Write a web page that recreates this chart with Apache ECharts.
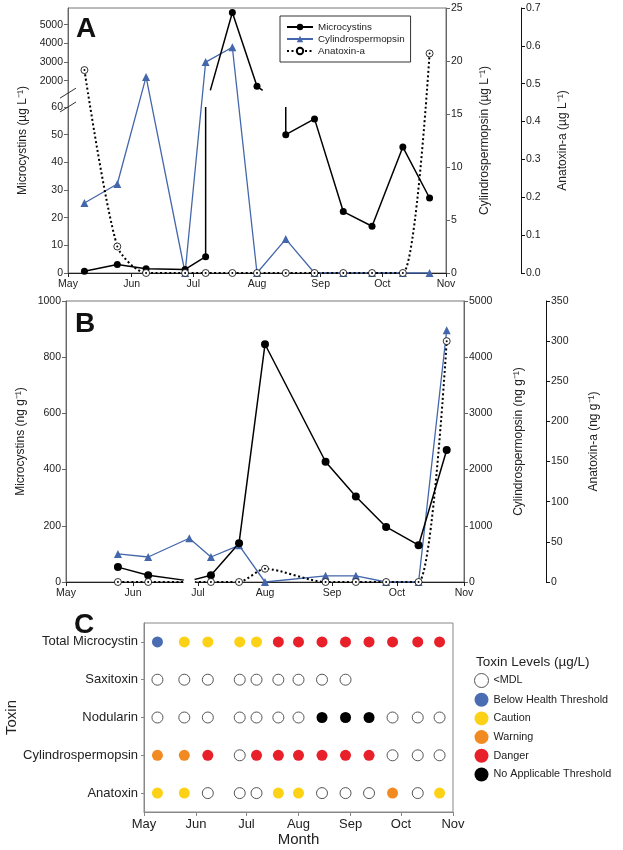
<!DOCTYPE html>
<html><head><meta charset="utf-8">
<script src="https://cdn.jsdelivr.net/npm/echarts@6/dist/echarts.min.js"></script>
<style>html,body{margin:0;padding:0;background:#fff}#c{width:623px;height:850px}</style>
</head><body><div id="c"></div>
<script>
// ---------- shared x (months) ----------
const monthStarts = [0, 31, 61, 92, 123, 153, 184];
const monthLabels = ['May', 'Jun', 'Jul', 'Aug', 'Sep', 'Oct', 'Nov'];
const sampleDates = ['05-09','05-25','06-08','06-27','07-07','07-20','08-01','08-15','08-29','09-12','09-26','10-11','10-24'];

// ---------- Panel A (µg/L) ----------
const aMicro    = [0.6, 3.1, 1.5, 1.3, 5.9, 5650, 1700, 50, 55.7, 22.2, 16.9, 45.5, 27.1];
const aCylindro = [6.6, 8.4, 18.5, 0, 19.9, 21.3, 0, 3.2, 0, 0, 0, 0, 0];
const aAnatoxin = [0.536, 0.07, 0, 0, 0, 0, 0, 0, 0, 0, 0, 0, 0.58];
const aLeftTicks = [0, 10, 20, 30, 40, 50, 60, 2000, 3000, 4000, 5000];

// ---------- Panel B (ng/g) ----------
const bDates    = ['05-25','06-08','06-27','07-07','07-20','08-01','08-29','09-12','09-26','10-11','10-24'];
const bMicro    = [53, 24, 4, 24, 138, 846, 428, 304, 196, 131, 470];
const bCylindro = [500, 445, 778, 445, 653, 0, 110, 110, 0, 0, 4480];
const bAnatoxin = [0, 0, 0, 0, 0, 16.5, 0, 0, 0, 0, 300];

// ---------- Panel C ----------
const cRows = ['Total Microcystin', 'Saxitoxin', 'Nodularin', 'Cylindrospermopsin', 'Anatoxin'];
const cLevels = ['<MDL', 'Below Health Threshold', 'Caution', 'Warning', 'Danger', 'No Applicable Threshold'];
const cLevelColors = ['#ffffff', '#4a6cb3', '#fcd116', '#f28a22', '#e8202a', '#000000'];
const cTotalMicro = [1, 2, 2, 2, 2, 4, 4, 4, 4, 4, 4, 4, 4];
const cSaxitoxin  = [0, 0, 0, 0, 0, 0, 0, 0, 0, null, null, null, null];
const cNodularin  = [0, 0, 0, 0, 0, 0, 0, 5, 5, 5, 0, 0, 0];
const cCylindro   = [3, 3, 4, 0, 4, 4, 4, 4, 4, 4, 0, 0, 0];
const cAnatoxin   = [2, 2, 0, 0, 0, 2, 2, 0, 0, 0, 3, 0, 2];

// ---------- helpers ----------
const dayOf = s => { const [m, d] = s.split('-').map(Number); return Math.round((Date.UTC(2019, m - 1, d) - Date.UTC(2019, 4, 1)) / 86400000); };
const xA = sampleDates.map(dayOf);
const xB = bDates.map(dayOf);

// broken-axis scale for panel A left axis
const BREAK_LO = 60, BREAK_HI = 66, UP0 = 69.5, UPK = 6.75;
const toV = v => v <= BREAK_LO ? v : UP0 + (v - 2000) / 1000 * UPK;
const aLeftTickV = aLeftTicks.map(toV);

const micData = [];
for (let i = 0; i < xA.length; i++) {
  const v = toV(aMicro[i]);
  if (i > 0) {
    const pv = toV(aMicro[i - 1]), px = xA[i - 1];
    const lowPrev = aMicro[i - 1] <= BREAK_LO, lowCur = aMicro[i] <= BREAK_LO;
    if (lowPrev && !lowCur) {
      micData.push({ value: [px, BREAK_LO], symbol: 'none' });
      micData.push({ value: [px, '-'], symbol: 'none' });
      const cx = xA[i] + (px - xA[i]) * (v - BREAK_HI) / (v - BREAK_LO);
      micData.push({ value: [cx, BREAK_HI], symbol: 'none' });
    } else if (!lowPrev && lowCur) {
      const cx = px + (xA[i] - px) * (pv - BREAK_HI) / (pv - BREAK_LO);
      micData.push({ value: [cx, BREAK_HI], symbol: 'none' });
      micData.push({ value: [cx, '-'], symbol: 'none' });
      micData.push({ value: [xA[i], BREAK_LO], symbol: 'none' });
    }
  }
  micData.push([xA[i], v]);
}

const FONT = 'Liberation Sans, Arial, sans-serif';
const TXT = '#222';
const BLUE = '#4466aa';

function monthAxis(gi, fs, lineColor) {
  return {
    type: 'value', gridIndex: gi, min: 0, max: 184,
    axisLine: { show: true, onZero: false, lineStyle: { color: lineColor, width: 1 } },
    axisTick: { show: true, customValues: monthStarts, length: 4, lineStyle: { color: lineColor } },
    axisLabel: { customValues: monthStarts, fontSize: fs, color: TXT, fontFamily: FONT, margin: 6,
      formatter: v => monthLabels[monthStarts.indexOf(Math.round(v))] || '' },
    splitLine: { show: false }
  };
}
function valAxis(gi, pos, min, max, interval, name, nameGap, opts) {
  return Object.assign({
    type: 'value', gridIndex: gi, position: pos, min, max, interval,
    axisLine: { show: true, onZero: false, lineStyle: { color: '#666' } },
    axisTick: { show: true, length: 4, lineStyle: { color: '#666' } },
    axisLabel: { fontSize: 10.5, color: TXT, fontFamily: FONT, margin: 5, formatter: v => String(v) },
    splitLine: { show: false },
    name, nameLocation: 'middle', nameGap, nameRotate: 90,
    nameTextStyle: { fontSize: 12, color: TXT, fontFamily: FONT }
  }, opts || {});
}

const chart = echarts.init(document.getElementById('c'), null, { renderer: 'canvas' });

const centerDots = (xs, ys, xi, yi) => ({
  type: 'scatter', xAxisIndex: xi, yAxisIndex: yi, symbol: 'circle', symbolSize: 2, silent: true,
  itemStyle: { color: '#000', opacity: 1 }, z: 5, data: xs.map((x, i) => [x, ys[i]])
});

const series = [
  // Panel A
  { name: 'Cylindrospermopsin', type: 'line', xAxisIndex: 0, yAxisIndex: 1, symbol: 'triangle', symbolSize: 8,
    lineStyle: { color: BLUE, width: 1.3 }, itemStyle: { color: BLUE }, data: xA.map((x, i) => [x, aCylindro[i]]) },
  { name: 'Microcystins', type: 'line', xAxisIndex: 0, yAxisIndex: 0, symbol: 'circle', symbolSize: 7,
    lineStyle: { color: '#000', width: 1.5 }, itemStyle: { color: '#000' }, data: micData },
  { name: 'Anatoxin-a', type: 'line', xAxisIndex: 0, yAxisIndex: 2, symbol: 'circle', symbolSize: 7, smooth: 0.25,
    lineStyle: { color: '#000', width: 2, type: [2, 2.5] }, itemStyle: { color: '#fff', borderColor: '#000', borderWidth: 0.8 },
    data: xA.map((x, i) => [x, aAnatoxin[i]]), z: 4 },
  centerDots(xA, aAnatoxin, 0, 2),
  // Panel B
  { name: 'Cylindrospermopsin', type: 'line', xAxisIndex: 1, yAxisIndex: 4, symbol: 'triangle', symbolSize: 8,
    lineStyle: { color: BLUE, width: 1.3 }, itemStyle: { color: BLUE }, data: xB.map((x, i) => [x, bCylindro[i]]) },
  { name: 'Microcystins', type: 'line', xAxisIndex: 1, yAxisIndex: 3, symbol: 'circle', symbolSize: 8,
    lineStyle: { color: '#000', width: 1.5 }, itemStyle: { color: '#000' },
    data: xB.map((x, i) => (bDates[i] === '06-27' ? { value: [x, bMicro[i]], symbol: 'none' } : [x, bMicro[i]])) },
  { name: 'Anatoxin-a', type: 'line', xAxisIndex: 1, yAxisIndex: 5, symbol: 'circle', symbolSize: 7, smooth: 0.25,
    lineStyle: { color: '#000', width: 2, type: [2, 2.5] }, itemStyle: { color: '#fff', borderColor: '#000', borderWidth: 0.8 },
    data: xB.map((x, i) => (bDates[i] === '06-27' ? { value: [x, bAnatoxin[i]], symbolSize: 11, itemStyle: { borderColor: '#fff' } } : [x, bAnatoxin[i]])), z: 4 },
  centerDots(xB.filter((x, i) => bDates[i] !== '06-27'), bAnatoxin.filter((v, i) => bDates[i] !== '06-27'), 1, 5)
];

// Panel C series, one per level
const cAll = [cTotalMicro, cSaxitoxin, cNodularin, cCylindro, cAnatoxin];
cLevels.forEach((lv, L) => {
  const data = [];
  cAll.forEach((row, r) => row.forEach((val, j) => { if (val === L) data.push([xA[j], cRows[r]]); }));
  series.push({
    name: lv, type: 'scatter', xAxisIndex: 2, yAxisIndex: 6, symbol: 'circle', symbolSize: 11,
    itemStyle: L === 0 ? { color: '#fff', borderColor: '#555', borderWidth: 1, opacity: 1 }
                       : { color: cLevelColors[L], borderColor: cLevelColors[L], borderWidth: 0, opacity: 1 },
    data
  });
});

const option = {
  animation: false,
  backgroundColor: '#fff',
  textStyle: { fontFamily: FONT },
  title: [
    { text: 'A', left: 71, top: 10, textStyle: { fontSize: 28, fontWeight: 'bold', color: '#111', fontFamily: FONT } },
    { text: 'B', left: 70, top: 305, textStyle: { fontSize: 28, fontWeight: 'bold', color: '#111', fontFamily: FONT } },
    { text: 'C', left: 69, top: 606, textStyle: { fontSize: 28, fontWeight: 'bold', color: '#111', fontFamily: FONT } },
    { text: 'Toxin Levels (µg/L)', left: 471, top: 650, textStyle: { fontSize: 13.5, fontWeight: 'normal', color: TXT, fontFamily: FONT } }
  ],
  legend: [
    { data: ['Microcystins', 'Cylindrospermopsin', 'Anatoxin-a'], left: 280, top: 16, orient: 'vertical',
      selectedMode: false, itemWidth: 26, itemHeight: 8, itemGap: 2, padding: [6, 6, 6, 6],
      borderColor: '#333', borderWidth: 1, backgroundColor: '#fff',
      textStyle: { fontSize: 9.8, color: TXT, fontFamily: FONT } },
    { data: cLevels.map((lv, L) => ({ name: lv, itemStyle: L === 0 ? { color: '#fff', borderColor: '#555', borderWidth: 1 } : { borderWidth: 0 } })),
      left: 474, top: 673, orient: 'vertical', selectedMode: false, icon: 'circle',
      itemWidth: 14, itemHeight: 14, itemGap: 4.7, padding: 0,
      textStyle: { fontSize: 10.8, color: TXT, fontFamily: FONT } }
  ],
  grid: [
    { left: 68, top: 8, width: 378, height: 265, show: true, borderColor: '#777', borderWidth: 1, backgroundColor: 'transparent' },
    { left: 66, top: 301, width: 398, height: 281, show: true, borderColor: '#777', borderWidth: 1, backgroundColor: 'transparent' },
    { left: 144, top: 623, width: 309, height: 189, show: true, borderColor: '#888', borderWidth: 1, backgroundColor: 'transparent' }
  ],
  xAxis: [
    monthAxis(0, 10.5, '#222'),
    monthAxis(1, 10.5, '#222'),
    Object.assign(monthAxis(2, 13, '#888'), { name: 'Month', nameLocation: 'middle', nameGap: 19,
      nameTextStyle: { fontSize: 15, color: TXT, fontFamily: FONT } })
  ],
  yAxis: [
    valAxis(0, 'left', 0, 95.77, null, 'Microcystins (µg L⁻¹)', 38, {
      axisTick: { show: true, length: 4, customValues: aLeftTickV, lineStyle: { color: '#666' } },
      axisLabel: { customValues: aLeftTickV, fontSize: 10.5, color: TXT, fontFamily: FONT, margin: 5,
        formatter: val => { const i = aLeftTickV.findIndex(t => Math.abs(t - val) < 1e-6); return i >= 0 ? String(aLeftTicks[i]) : ''; } }
    }),
    valAxis(0, 'right', 0, 25, 5, 'Cylindrospermopsin (µg L⁻¹)', 33),
    valAxis(0, 'right', 0, 0.7, 0.1, 'Anatoxin-a (µg L⁻¹)', 36, {
      offset: 75, axisLine: { show: true, onZero: false, lineStyle: { color: '#111' } },
      axisTick: { show: true, length: 4, lineStyle: { color: '#111' } },
      axisLabel: { fontSize: 10.5, color: TXT, fontFamily: FONT, margin: 5, formatter: v => v.toFixed(1) } }),
    valAxis(1, 'left', 0, 1000, 200, 'Microcystins (ng g⁻¹)', 36),
    valAxis(1, 'right', 0, 5000, 1000, 'Cylindrospermopsin (ng g⁻¹)', 49),
    valAxis(1, 'right', 0, 350, 50, 'Anatoxin-a (ng g⁻¹)', 42, {
      offset: 82, axisLine: { show: true, onZero: false, lineStyle: { color: '#111' } },
      axisTick: { show: true, length: 4, lineStyle: { color: '#111' } } }),
    { type: 'category', gridIndex: 2, data: cRows, inverse: true,
      axisLine: { show: true, lineStyle: { color: '#888' } },
      axisTick: { show: true, alignWithLabel: true, length: 3, lineStyle: { color: '#888' } },
      axisLabel: { fontSize: 13, color: TXT, fontFamily: FONT, margin: 6 },
      splitLine: { show: false },
      name: 'Toxin', nameLocation: 'middle', nameGap: 122, nameRotate: 90,
      nameTextStyle: { fontSize: 15, color: TXT, fontFamily: FONT } }
  ],
  series
};
chart.setOption(option);

// axis break marks on panel A left axis
const ax = chart.convertToPixel({ xAxisIndex: 0 }, 0);
const graphics = [BREAK_LO, BREAK_HI - 1].map(v => {
  const y = chart.convertToPixel({ yAxisIndex: 0 }, v);
  return { type: 'line', shape: { x1: ax - 8, y1: y + 5, x2: ax + 8, y2: y - 5 }, style: { stroke: '#333', lineWidth: 1 }, z: 10 };
});
chart.setOption({ graphic: graphics });
</script>
</body></html>
